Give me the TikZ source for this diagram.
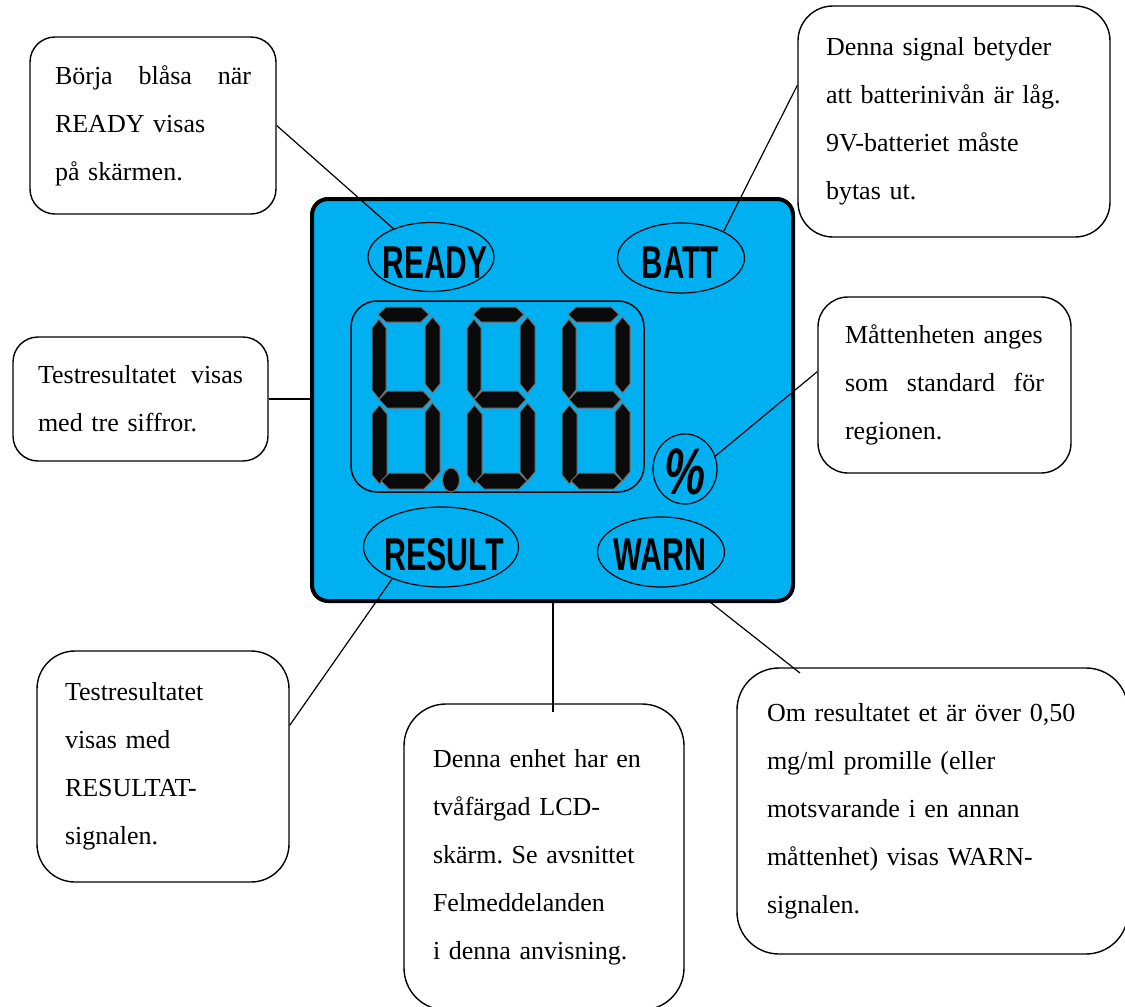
\documentclass[tikz,border=0pt]{standalone}
\usepackage{graphicx}
\usepackage{fontspec}
\setmainfont{Liberation Serif}
\newfontfamily\lcdfont{Liberation Sans}
\usetikzlibrary{shapes.geometric}
\definecolor{lcdblue}{RGB}{0,176,240}
\definecolor{segedge}{RGB}{115,115,115}
\newcommand\vsegd[4]{\filldraw[seg] (#1,#3+9) -- ({(#1+#2)/2},#3) -- (#2,#3+9) -- (#2,#4-9) -- ({(#1+#2)/2},#4) -- (#1,#4-9) -- cycle;}
\newcommand\hsegd[4]{\filldraw[seg] (#1,{(#3+#4)/2}) -- (#1+8,#3) -- (#2-8,#3) -- (#2,{(#3+#4)/2}) -- (#2-8,#4) -- (#1+8,#4) -- cycle;}
\frenchspacing
\begin{document}
\begin{tikzpicture}[x=1pt,y=-1pt,
  note/.style={draw, line width=1.4pt, rounded corners=#1, align=left, inner ysep=0pt,
    font=\fontsize{26}{48}\selectfont\frenchspacing},
  oval/.style={draw, ellipse, line width=1.2pt, inner sep=0pt},
  lcdtxt/.style={font=\lcdfont\bfseries\fontsize{46}{46}\selectfont, inner sep=0pt, anchor=base},
  conn/.style={line width=1.2pt},
  seg/.style={fill=black!96, draw=segedge, line width=1pt, line join=miter}
]
\useasboundingbox (0,0) rectangle (1125,1007);

% LCD body
\node[draw, line width=4pt, rounded corners=16pt, fill=lcdblue, minimum width=481pt,
  minimum height=402pt, inner sep=0pt] (lcd) at (552.5,400) {};
\node[draw, line width=1.5pt, rounded corners=26pt, minimum width=293pt,
  minimum height=191pt, inner sep=0pt] (disp) at (497.5,396.5) {};

% seven-segment digits
\foreach \dx in {372,467,562} {
  \begin{scope}[shift={(\dx,307)}]
    \hsegd{6}{57}{0}{15}
    \vsegd{0}{14}{12}{92}
    \vsegd{53}{68}{10}{86}
    \hsegd{7}{59}{84}{101}
    \vsegd{0}{15}{98}{177}
    \vsegd{53}{68}{96}{174}
    \hsegd{9}{60}{166}{182}
  \end{scope}
}
\filldraw[seg] (451,480) ellipse [x radius=8.5, y radius=12];

% indicator ovals
\node[oval, minimum width=126pt, minimum height=69pt] (ready) at (431,257) {};
\node[oval, minimum width=127pt, minimum height=70pt] (batt) at (681,258) {};
\node[oval, minimum width=155pt, minimum height=80pt] (result) at (441,547) {};
\node[oval, minimum width=127pt, minimum height=70pt] (warn) at (661,552) {};
\node[oval, minimum width=64pt, minimum height=70pt] (pct) at (685,469) {};

\node[lcdtxt] (readyt) at (435,278) {\scalebox{0.65}[1]{READY}};
\node[lcdtxt] (battt) at (680,278) {\scalebox{0.64}[1]{BATT}};
\node[lcdtxt] (resultt) at (444,570) {\scalebox{0.66}[1]{RESULT}};
\node[lcdtxt] (warnt) at (660,570) {\scalebox{0.66}[1]{WARN}};
\node[font=\lcdfont\bfseries\itshape\fontsize{66}{66}\selectfont, inner sep=0pt, anchor=base]
  (pctt) at (685,494) {\scalebox{0.7}[1]{\%}};

% callout boxes
\node[note=25pt, minimum width=246pt, minimum height=177pt, text width=196pt, inner xsep=25pt]
  (b1) at (153,125.5) {\leavevmode\hbox to\hsize{Börja\hfill blåsa\hfill när}\\READY visas\\på skärmen.};
\node[note=35pt, minimum width=312pt, minimum height=231pt, text width=256pt, inner xsep=28pt]
  (b2) at (954,121.5) {Denna signal betyder\\att batterinivån är låg.\\9V-batteriet måste\\bytas ut.};
\node[note=25pt, minimum width=255pt, minimum height=124pt, text width=205pt, inner xsep=25pt]
  (b3) at (140.5,399) {\leavevmode\hbox to\hsize{Testresultatet\hfill visas}\\med tre siffror.};
\node[note=30pt, minimum width=253pt, minimum height=176pt, text width=199pt, inner xsep=27pt]
  (b4) at (944.5,385) {Måttenheten anges\\\leavevmode\hbox to\hsize{som\hfill standard\hfill för}\\regionen.};
\node[note=38pt, minimum width=252pt, minimum height=231pt, text width=196pt, inner xsep=28pt]
  (b5) at (163,766.5) {Testresultatet\\visas med\\RESULTAT-\\signalen.};
\node[note=42pt, minimum width=280pt, minimum height=306pt, text width=222pt, inner xsep=29pt]
  (b6) at (544,857) {Denna enhet har en\\tvåfärgad LCD-\\skärm. Se avsnittet\\Felmeddelanden\\i denna anvisning.\\[6pt]};
\node[note=42pt, minimum width=391pt, minimum height=286pt, text width=331pt, inner xsep=30pt]
  (b7) at (932.5,811) {Om resultatet et är över 0,50\\mg/ml promille (eller\\motsvarande i en annan\\måttenhet) visas WARN-\\signalen.};

% connectors
\draw[conn] (b1.east) -- (ready.143);
\draw[conn] (batt.32) -- (b2.167);
\draw[conn] (b3.east) -- (b3.east -| lcd.west);
\draw[conn] (pct.23) -- (b4.174);
\draw[conn] (result.213) -- (b5.18);
\coordinate (c6) at (553,712);
\draw[conn] (c6) -- (c6 |- lcd.south);
\coordinate (c7) at (800,673);
\coordinate (w7) at (710,602);
\draw[conn] (c7) -- (w7);
\end{tikzpicture}
\end{document}
